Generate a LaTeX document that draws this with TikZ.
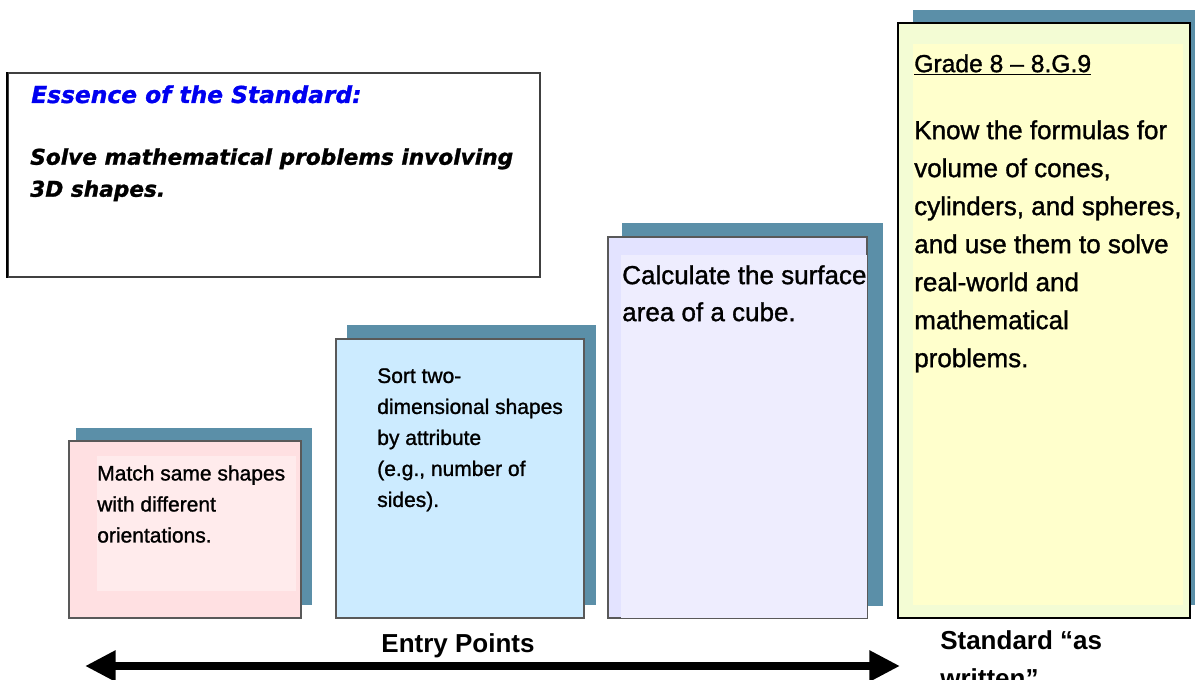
\documentclass[tikz,border=0pt]{standalone}
\usepackage{fontspec}
\setmainfont{Liberation Sans}
\newfontfamily\essfont[BoldItalicFeatures={FakeBold=1.2}]{DejaVu Sans}
\newfontfamily\cardfont[FakeBold=1.2]{Liberation Sans}
\usetikzlibrary{arrows.meta,fit}
\definecolor{Shadow}{HTML}{5B8FA8}
\definecolor{Pink}{HTML}{FFE0E2}
\definecolor{PinkIn}{HTML}{FFEBEC}
\definecolor{Sky}{HTML}{CCEBFF}
\definecolor{Lav}{HTML}{E3E3FF}
\definecolor{LavIn}{HTML}{EEEDFE}
\definecolor{Lemon}{HTML}{F3FCD4}
\definecolor{LemonIn}{HTML}{FFFFCC}
\definecolor{EssBlue}{HTML}{0000F0}

\begin{document}
\begin{tikzpicture}[x=0.75pt,y=-0.75pt,
  back/.style={fill=Shadow,inner sep=0pt},
  card/.style={draw=black!65,line width=0.9pt,inner sep=0pt},
  innerbox/.style={inner sep=0pt},
  small/.style={anchor=north west,inner sep=0pt,align=left,font=\cardfont\fontsize{15.75}{23.25}\selectfont},
  large/.style={anchor=north west,inner sep=0pt,align=left,font=\cardfont\fontsize{19.5}{28.5}\selectfont},
  arr/.style={{Triangle[length=23pt,width=22pt]}-{Triangle[length=23pt,width=22pt]},line width=6pt}]
  \useasboundingbox (0,0) rectangle (1195,680);

  % essence box
  \node[draw=black!75,line width=1pt,inner sep=0pt,fit={(8,73) (540,277)}] (essence) {};
  \draw[line width=1.5pt] (essence.north west) -- (essence.south west);
  \node[anchor=north west,inner sep=0pt,text=EssBlue,
    font=\essfont\bfseries\itshape\fontsize{17.5}{24}\selectfont] (esstitle) at (31,85) {Essence of the Standard:};
  \node[anchor=north west,inner sep=0pt,align=left,
    font=\essfont\bfseries\itshape\fontsize{16.25}{24}\selectfont] (esstext) at (30,148) {Solve mathematical problems involving\\3D shapes.};

  % entry point cards
  \node[back,fit={(76,428) (312,605)}] (matchback) {};
  \node[card,fill=Pink,fit={(69,441) (301,618)}] (match) {};
  \node[innerbox,fill=PinkIn,fit={(97,456) (296,591)}] (matchin) {};
  \node[small] (matchtext) at (97,465) {Match same shapes\\with different\\orientations.};

  \node[back,fit={(347,325) (596,605)}] (sortback) {};
  \node[card,fill=Sky,fit={(336,339) (584,618)}] (sort) {};
  \node[small] (sorttext) at (377,368) {Sort two-\\dimensional shapes\\by attribute\\(e.g., number of\\sides).};

  \node[back,fit={(622,223) (883,606)}] (cubeback) {};
  \node[card,fill=Lav,fit={(608,237) (867,618)}] (cube) {};
  \node[innerbox,fill=LavIn,fit={(621,255) (867,618)}] (cubein) {};
  \node[large,font=\cardfont\fontsize{19.5}{27.75}\selectfont] (cubetext) at (622,265) {Calculate the surface\\area of a cube.};

  % standard card
  \node[back,fit={(913,10) (1200,605)}] (gradeback) {};
  \node[card,draw=black,fill=Lemon,fit={(898,23) (1190,618)}] (grade) {};
  \node[innerbox,fill=LemonIn,fit={(913,44) (1183,605)}] (gradein) {};
  \node[large,font=\cardfont\fontsize{18.5}{28.5}\selectfont] (gradetitle) at (914,54) {\underline{Grade 8 – 8.G.9}};
  \node[large] (gradetext) at (914,120) {Know the formulas for\\volume of cones,\\cylinders, and spheres,\\and use them to solve\\real-world and\\mathematical\\problems.};

  % arrow
  \coordinate (arrL) at (85,666);
  \coordinate (arrR) at (900,666);
  \draw[arr] (arrL) -- (arrR);
  \node[anchor=base,inner sep=0pt,font=\bfseries\fontsize{19.5}{24}\selectfont] (entry) at (458,652) {Entry Points};
  \node[anchor=north west,inner sep=0pt,align=left,font=\bfseries\fontsize{19.5}{28.5}\selectfont] (std) at (940,630) {Standard “as\\written”};
\end{tikzpicture}
\end{document}
